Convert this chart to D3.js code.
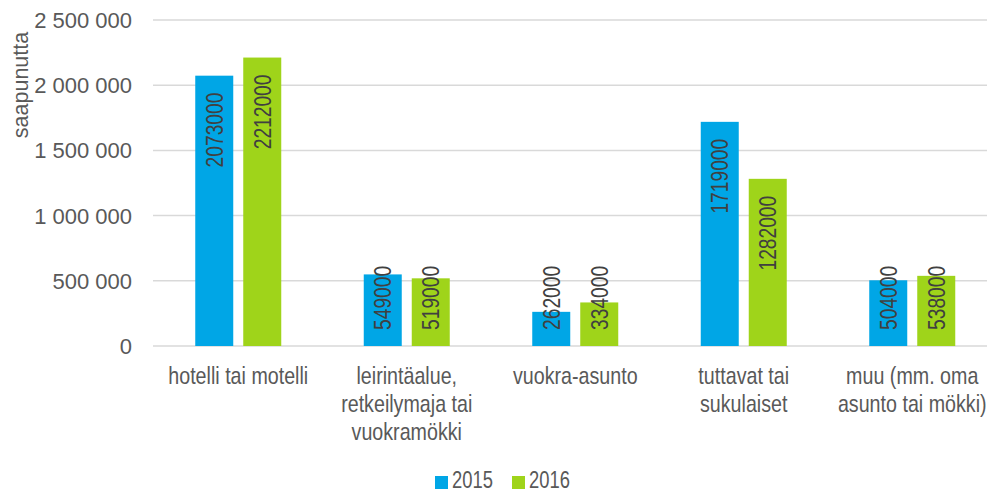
<!DOCTYPE html>
<html>
<head>
<meta charset="utf-8">
<script src="https://cdn.jsdelivr.net/npm/d3@7"></script>
<style>
  body { margin: 0; background: #fff; }
  svg { display: block; font-family: "Liberation Sans", Arial, sans-serif; }
</style>
</head>
<body>
<svg id="chart" width="987" height="493"></svg>
<script>
// data
const categories = [
  ["hotelli tai motelli"],
  ["leirintäalue,", "retkeilymaja tai", "vuokramökki"],
  ["vuokra-asunto"],
  ["tuttavat tai", "sukulaiset"],
  ["muu (mm. oma", "asunto tai mökki)"]
];
const series = ["2015", "2016"];
const values2015 = [2073000, 549000, 262000, 1719000, 504000];
const values2016 = [2212000, 519000, 334000, 1282000, 538000];
const yTicks = [0, 500000, 1000000, 1500000, 2000000, 2500000];
const colors = ["#00a6e6", "#9fd41a"];

// no narrow font installed, so squeeze Liberation Sans horizontally
const SQ = 0.8;

const svg = d3.select('#chart');
const catKeys = categories.map(c => c.join(' '));

const x = d3.scaleBand().domain(catKeys).range([154, 996.5]);
const y = d3.scaleLinear().domain([0, 2500000]).range([346, 20]);

// grid lines
svg.append('g')
  .selectAll('line')
  .data(yTicks)
  .enter()
  .append('line')
  .attr('x1', 153)
  .attr('x2', 987)
  .attr('y1', d => y(d))
  .attr('y2', d => y(d))
  .attr('stroke', '#d9d9d9')
  .attr('stroke-width', 1.5);

// y tick labels
const fmt = v => d3.format(',')(v).replace(/,/g, ' ');
svg.append('g')
  .selectAll('text')
  .data(yTicks)
  .enter()
  .append('text')
  .attr('x', 132)
  .attr('y', d => y(d))
  .attr('dy', '0.36em')
  .attr('text-anchor', 'end')
  .attr('font-size', 22)
  .attr('fill', '#595959')
  .text(fmt);

// y axis title
svg.append('text')
  .attr('transform', 'translate(28,85) rotate(-90)')
  .attr('text-anchor', 'middle')
  .attr('font-size', 21.5)
  .attr('fill', '#595959')
  .text('saapunutta');

// bars
const rows = catKeys.map((k, i) => ({ key: k, vals: [values2015[i], values2016[i]] }));
const labelSize = 24;

rows.forEach(row => {
  const c = x(row.key) + x.bandwidth() / 2;
  const x1 = d3.scaleBand().domain(series).range([c - 43, c + 43]).paddingInner(2 - 86 / 48);
  const g = svg.append('g');
  g.selectAll('rect')
    .data(row.vals)
    .enter()
    .append('rect')
    .attr('x', (d, i) => x1(series[i]))
    .attr('width', x1.bandwidth())
    .attr('y', d => y(d))
    .attr('height', d => y(0) - y(d))
    .attr('fill', (d, i) => colors[i]);

  g.selectAll('text')
    .data(row.vals)
    .enter()
    .append('text')
    .attr('font-size', labelSize)
    .attr('fill', '#404040')
    .attr('text-anchor', 'end')
    .attr('dy', '0.36em')
    .text(d => String(d))
    .attr('transform', function (d, i) {
      const len = this.getComputedTextLength() * SQ;
      const top = Math.min(y(d) + 17, y(0) - 16 - len);
      const cx = x1(series[i]) + x1.bandwidth() / 2;
      return `translate(${cx},${top}) rotate(-90) scale(${SQ},1)`;
    });
});

// category labels
const catG = svg.append('g');
rows.forEach((row, i) => {
  const c = x(row.key) + x.bandwidth() / 2;
  const t = catG.append('text')
    .attr('transform', `translate(${c},384) scale(0.82,1)`)
    .attr('text-anchor', 'middle')
    .attr('font-size', 24)
    .attr('fill', '#595959');
  categories[i].forEach((line, j) => {
    t.append('tspan').attr('x', 0).attr('y', j * 28).text(line);
  });
});

// legend
const legend = svg.append('g');
const legendX = [435, 512];
series.forEach((s, i) => {
  legend.append('rect')
    .attr('x', legendX[i]).attr('y', 476)
    .attr('width', 13).attr('height', 13)
    .attr('fill', colors[i]);
  legend.append('text')
    .attr('transform', `translate(${legendX[i] + 17},488) scale(${SQ},1)`)
    .attr('font-size', 23)
    .attr('fill', '#595959')
    .text(s);
});
</script>
</body>
</html>
